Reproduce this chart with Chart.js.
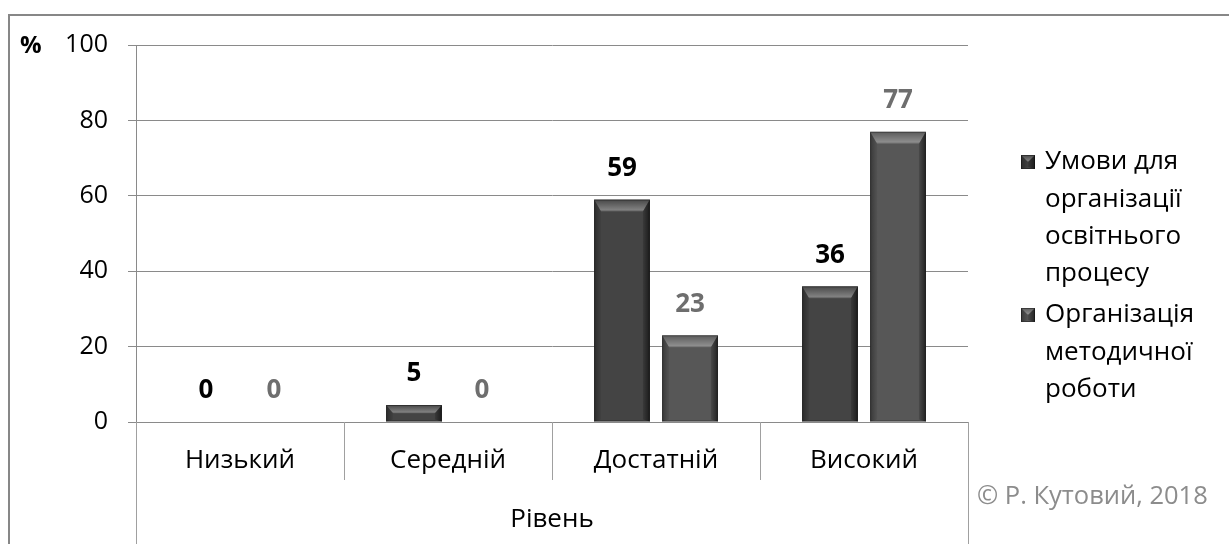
<!DOCTYPE html>
<html lang="uk">
<head>
<meta charset="UTF-8">
<script src="https://cdn.jsdelivr.net/npm/chart.js@4.4.1/dist/chart.umd.min.js"></script>
<title>Рівень</title>
<style>
  html, body {margin: 0; padding: 0; background: #fff;}
  #wrap {width: 1229px; height: 544px;}
</style>
</head>
<body>
<div id="wrap"><canvas id="chart"></canvas></div>
<script>
// data
const categories = ['Низький', 'Середній', 'Достатній', 'Високий'];
const umovy = [0, 4.5, 59, 36];
const metod = [0, 0, 23, 77];
const seriesNames = [
    ['Умови для', 'організації', 'освітнього', 'процесу'],
    ['Організація', 'методичної', 'роботи']
];
const yTicks = [0, 20, 40, 60, 80, 100];
const groupLabel = 'Рівень';
const unitLabel = '%';
const credit = '© Р. Кутовий, 2018';

const FONT = '"Open Sans", sans-serif';
const colors = ['#444444', '#575757'];
const labelColors = ['#000000', '#6e6e6e'];
const gridColor = '#8a8a8a';

function drawBevel(ctx, l, t, w, h) {
    const b = Math.min(12, h / 2, w / 2);
    const s = Math.min(7, w / 2);
    const r = l + w, btm = t + h;
    ctx.save();
    // top
    let g = ctx.createLinearGradient(0, t, 0, t + b);
    g.addColorStop(0, 'rgba(255,255,255,0.02)');
    g.addColorStop(0.85, 'rgba(255,255,255,0.32)');
    g.addColorStop(1, 'rgba(255,255,255,0.12)');
    ctx.fillStyle = g;
    ctx.beginPath();
    ctx.moveTo(l, t); ctx.lineTo(r, t); ctx.lineTo(r - s, t + b); ctx.lineTo(l + s, t + b);
    ctx.closePath(); ctx.fill();
    // left
    g = ctx.createLinearGradient(l, 0, l + s, 0);
    g.addColorStop(0, 'rgba(0,0,0,0.35)');
    g.addColorStop(1, 'rgba(0,0,0,0.05)');
    ctx.fillStyle = g;
    ctx.beginPath();
    ctx.moveTo(l, t); ctx.lineTo(l + s, t + b); ctx.lineTo(l + s, btm - 2); ctx.lineTo(l, btm);
    ctx.closePath(); ctx.fill();
    // right
    g = ctx.createLinearGradient(r - s, 0, r, 0);
    g.addColorStop(0, 'rgba(0,0,0,0.15)');
    g.addColorStop(1, 'rgba(0,0,0,0.6)');
    ctx.fillStyle = g;
    ctx.beginPath();
    ctx.moveTo(r, t); ctx.lineTo(r - s, t + b); ctx.lineTo(r - s, btm - 2); ctx.lineTo(r, btm);
    ctx.closePath(); ctx.fill();
    ctx.strokeStyle = 'rgba(0,0,0,0.35)';
    ctx.lineWidth = 1;
    ctx.strokeRect(l + 0.5, t + 0.5, w - 1, h - 1);
    ctx.restore();
}

const bevelPlugin = {
    id: 'bevel',
    afterDatasetsDraw(chart) {
        const ctx = chart.ctx;
        chart.data.datasets.forEach((ds, i) => {
            chart.getDatasetMeta(i).data.forEach(bar => {
                const p = bar.getProps(['x', 'y', 'width', 'base'], true);
                const h = p.base - p.y;
                if (h < 1) return;
                drawBevel(ctx, p.x - p.width / 2, p.y, p.width, h);
            });
        });
    }
};

const framePlugin = {
    id: 'frame',
    beforeDraw(chart) {
        const ctx = chart.ctx;
        ctx.save();
        ctx.fillStyle = '#fff';
        ctx.fillRect(0, 0, chart.width, chart.height);
        ctx.strokeStyle = '#878787';
        ctx.lineWidth = 2;
        ctx.strokeRect(9, 15, 1400, 700);
        ctx.restore();
    },
    afterDraw(chart) {
        const ctx = chart.ctx;
        const x = chart.scales.x;
        const area = chart.chartArea;
        ctx.save();

        // category separators under the axis
        ctx.strokeStyle = '#a0a0a0';
        ctx.lineWidth = 1;
        for (let i = 0; i <= categories.length; i++) {
            let px;
            if (i === 0) px = area.left;
            else if (i === categories.length) px = area.right;
            else px = (x.getPixelForValue(i - 1) + x.getPixelForValue(i)) / 2;
            const outer = (i === 0 || i === categories.length);
            ctx.beginPath();
            ctx.moveTo(Math.round(px) + 0.5, area.bottom);
            ctx.lineTo(Math.round(px) + 0.5, outer ? chart.height : area.bottom + 58);
            ctx.stroke();
        }

        // data labels
        ctx.textAlign = 'center';
        ctx.textBaseline = 'middle';
        ctx.font = 'bold 26px ' + FONT;
        chart.data.datasets.forEach((ds, i) => {
            ctx.fillStyle = labelColors[i];
            chart.getDatasetMeta(i).data.forEach((bar, j) => {
                ctx.fillText(String(Math.round(ds.data[j])), bar.x, bar.y - 31);
            });
        });

        // axis texts
        ctx.fillStyle = '#000';
        ctx.font = '26px ' + FONT;
        ctx.fillText(groupLabel, (area.left + area.right) / 2, 520);
        ctx.textAlign = 'left';
        ctx.font = 'bold 24px ' + FONT;
        ctx.fillText(unitLabel, 20, 46);

        ctx.font = '25.5px ' + FONT;
        ctx.fillStyle = '#8c8c8c';
        ctx.fillText(credit, 977, 497);

        // legend
        ctx.font = '26px ' + FONT;
        const starts = [162, 315];
        seriesNames.forEach((lines, i) => {
            const y0 = starts[i];
            ctx.fillStyle = colors[i];
            ctx.fillRect(1021, y0 - 7, 14, 14);
            drawBevel(ctx, 1021, y0 - 7, 14, 14);
            ctx.fillStyle = '#000';
            lines.forEach((t, k) => ctx.fillText(t, 1045, y0 + k * 37.3));
        });
        ctx.restore();
    }
};

new Chart(document.getElementById('chart'), {
    type: 'bar',
    data: {
        labels: categories,
        datasets: [
            {label: seriesNames[0].join(' '), data: umovy, backgroundColor: colors[0]},
            {label: seriesNames[1].join(' '), data: metod, backgroundColor: colors[1]}
        ]
    },
    options: {
        responsive: true,
        maintainAspectRatio: false,
        animation: false,
        categoryPercentage: 0.654,
        barPercentage: 0.82,
        layout: {padding: {left: 0, top: 45, right: 261, bottom: 0}},
        plugins: {legend: {display: false}, tooltip: {enabled: false}},
        scales: {
            x: {
                grid: {display: false, drawTicks: false},
                border: {display: false},
                ticks: {color: '#000', font: {family: FONT, size: 26}, padding: 23},
                afterFit(s) { s.height = 122; }
            },
            y: {
                min: 0,
                max: 100,
                afterBuildTicks(s) { s.ticks = yTicks.map(v => ({value: v})); },
                grid: {color: gridColor, tickLength: 8},
                border: {color: gridColor},
                ticks: {color: '#000', font: {family: FONT, size: 25}, padding: 20},
                afterFit(s) { s.width = 136; }
            }
        }
    },
    plugins: [framePlugin, bevelPlugin]
});
</script>
</body>
</html>
